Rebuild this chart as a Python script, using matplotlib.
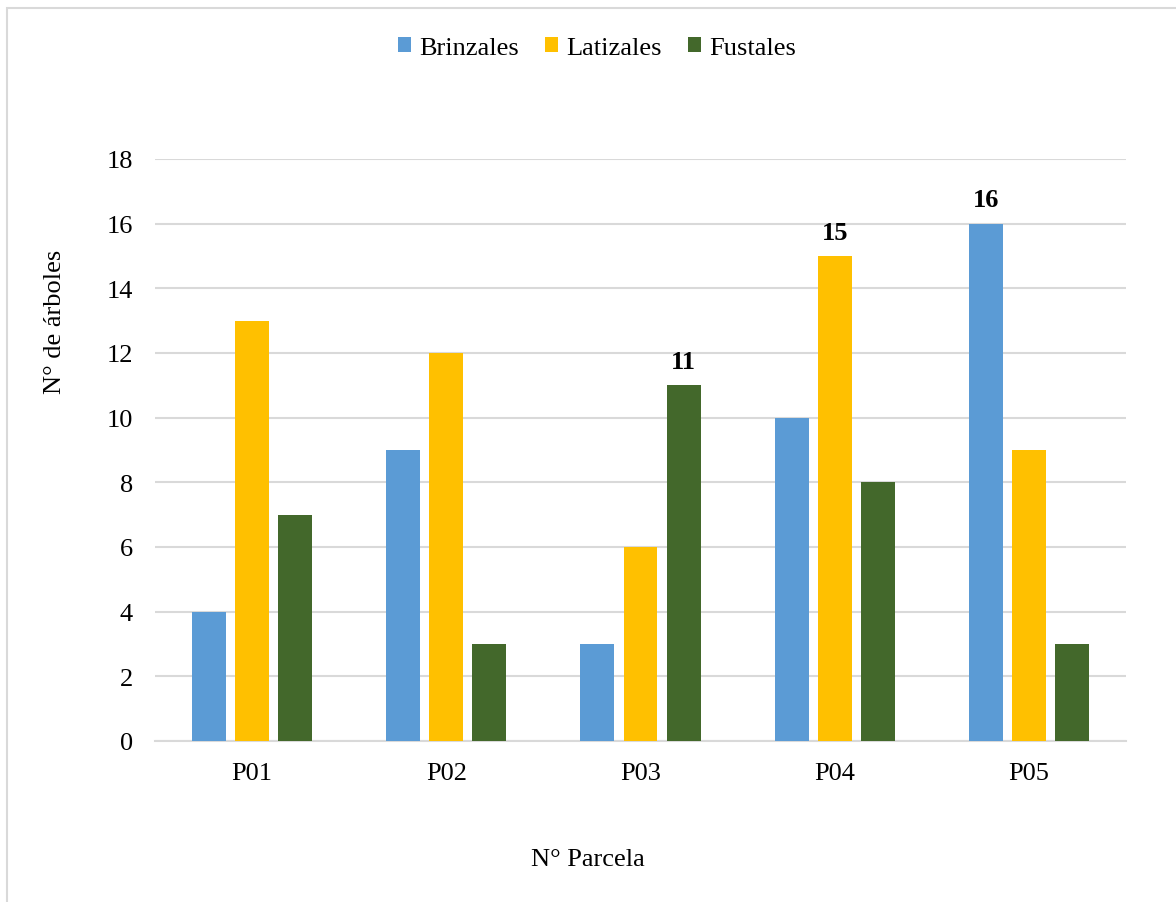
import matplotlib
matplotlib.use("Agg")
import matplotlib.pyplot as plt
import numpy as np
from matplotlib.patches import Rectangle

plt.rcParams['font.family'] = ['Liberation Serif', 'DejaVu Serif']

parcelas = ["P01", "P02", "P03", "P04", "P05"]
series_names = ["Brinzales", "Latizales", "Fustales"]
brinzales = [4, 9, 3, 10, 16]
latizales = [13, 12, 6, 15, 9]
fustales = [7, 3, 11, 8, 3]
colors = ["#5B9BD5", "#FFC000", "#43682B"]
yticks = [0, 2, 4, 6, 8, 10, 12, 14, 16, 18]
# plots whose highest bar carries a value label
labelled_parcelas = ["P03", "P04", "P05"]

fig = plt.figure(figsize=(11.76, 9.03), dpi=100)
ax = fig.add_axes([155 / 1176, 1 - 742 / 903, (1126 - 155) / 1176, (742 - 160) / 903])

x = np.arange(len(parcelas))
width = 0.175
offset = 0.222
all_series = [brinzales, latizales, fustales]
bars = []
for i, (vals, name, c) in enumerate(zip(all_series, series_names, colors)):
    b = ax.bar(x + (i - 1) * offset, vals, width, color=c, label=name, zorder=3)
    bars.append(b)

for j, p in enumerate(parcelas):
    if p not in labelled_parcelas:
        continue
    col = [s[j] for s in all_series]
    k = int(np.argmax(col))
    ax.annotate(str(col[k]), (x[j] + (k - 1) * offset, col[k]),
                xytext=(0, 9), textcoords="offset points",
                ha="center", va="bottom", fontsize=19, fontweight="bold")

ax.set_xlim(-0.5, 4.5)
ax.set_ylim(0, 18)
ax.set_yticks(yticks)
ax.set_xticks(x)
ax.set_xticklabels(parcelas)
ax.tick_params(axis="both", length=0, labelsize=19)
ax.tick_params(axis="y", pad=16)
ax.tick_params(axis="x", pad=15)
ax.grid(axis="y", color="#D9D9D9", linewidth=1.5, zorder=0)
for side in ["left", "right", "top"]:
    ax.spines[side].set_visible(False)
ax.spines["bottom"].set_color("#D9D9D9")
ax.spines["bottom"].set_linewidth(1.5)

fig.text(588 / 1176, 1 - 860 / 903, "N° Parcela", ha="center", va="center", fontsize=19)
fig.text(55 / 1176, 1 - 322 / 903, "N° de árboles", ha="center", va="center",
         fontsize=19, rotation=90)

fig.legend(handles=bars, labels=series_names, loc="center", ncol=3,
           bbox_to_anchor=(597 / 1176, 1 - 49 / 903), frameon=False, fontsize=19,
           handlelength=0.5, handleheight=0.5, handletextpad=0.3, columnspacing=1.0)

fig.patches.append(Rectangle((7 / 1176, -0.1), 1.2, 1 - 9 / 903 + 0.1,
                             transform=fig.transFigure, fill=False,
                             edgecolor="#D9D9D9", linewidth=1.5))

fig.savefig("out.png", dpi=100)
